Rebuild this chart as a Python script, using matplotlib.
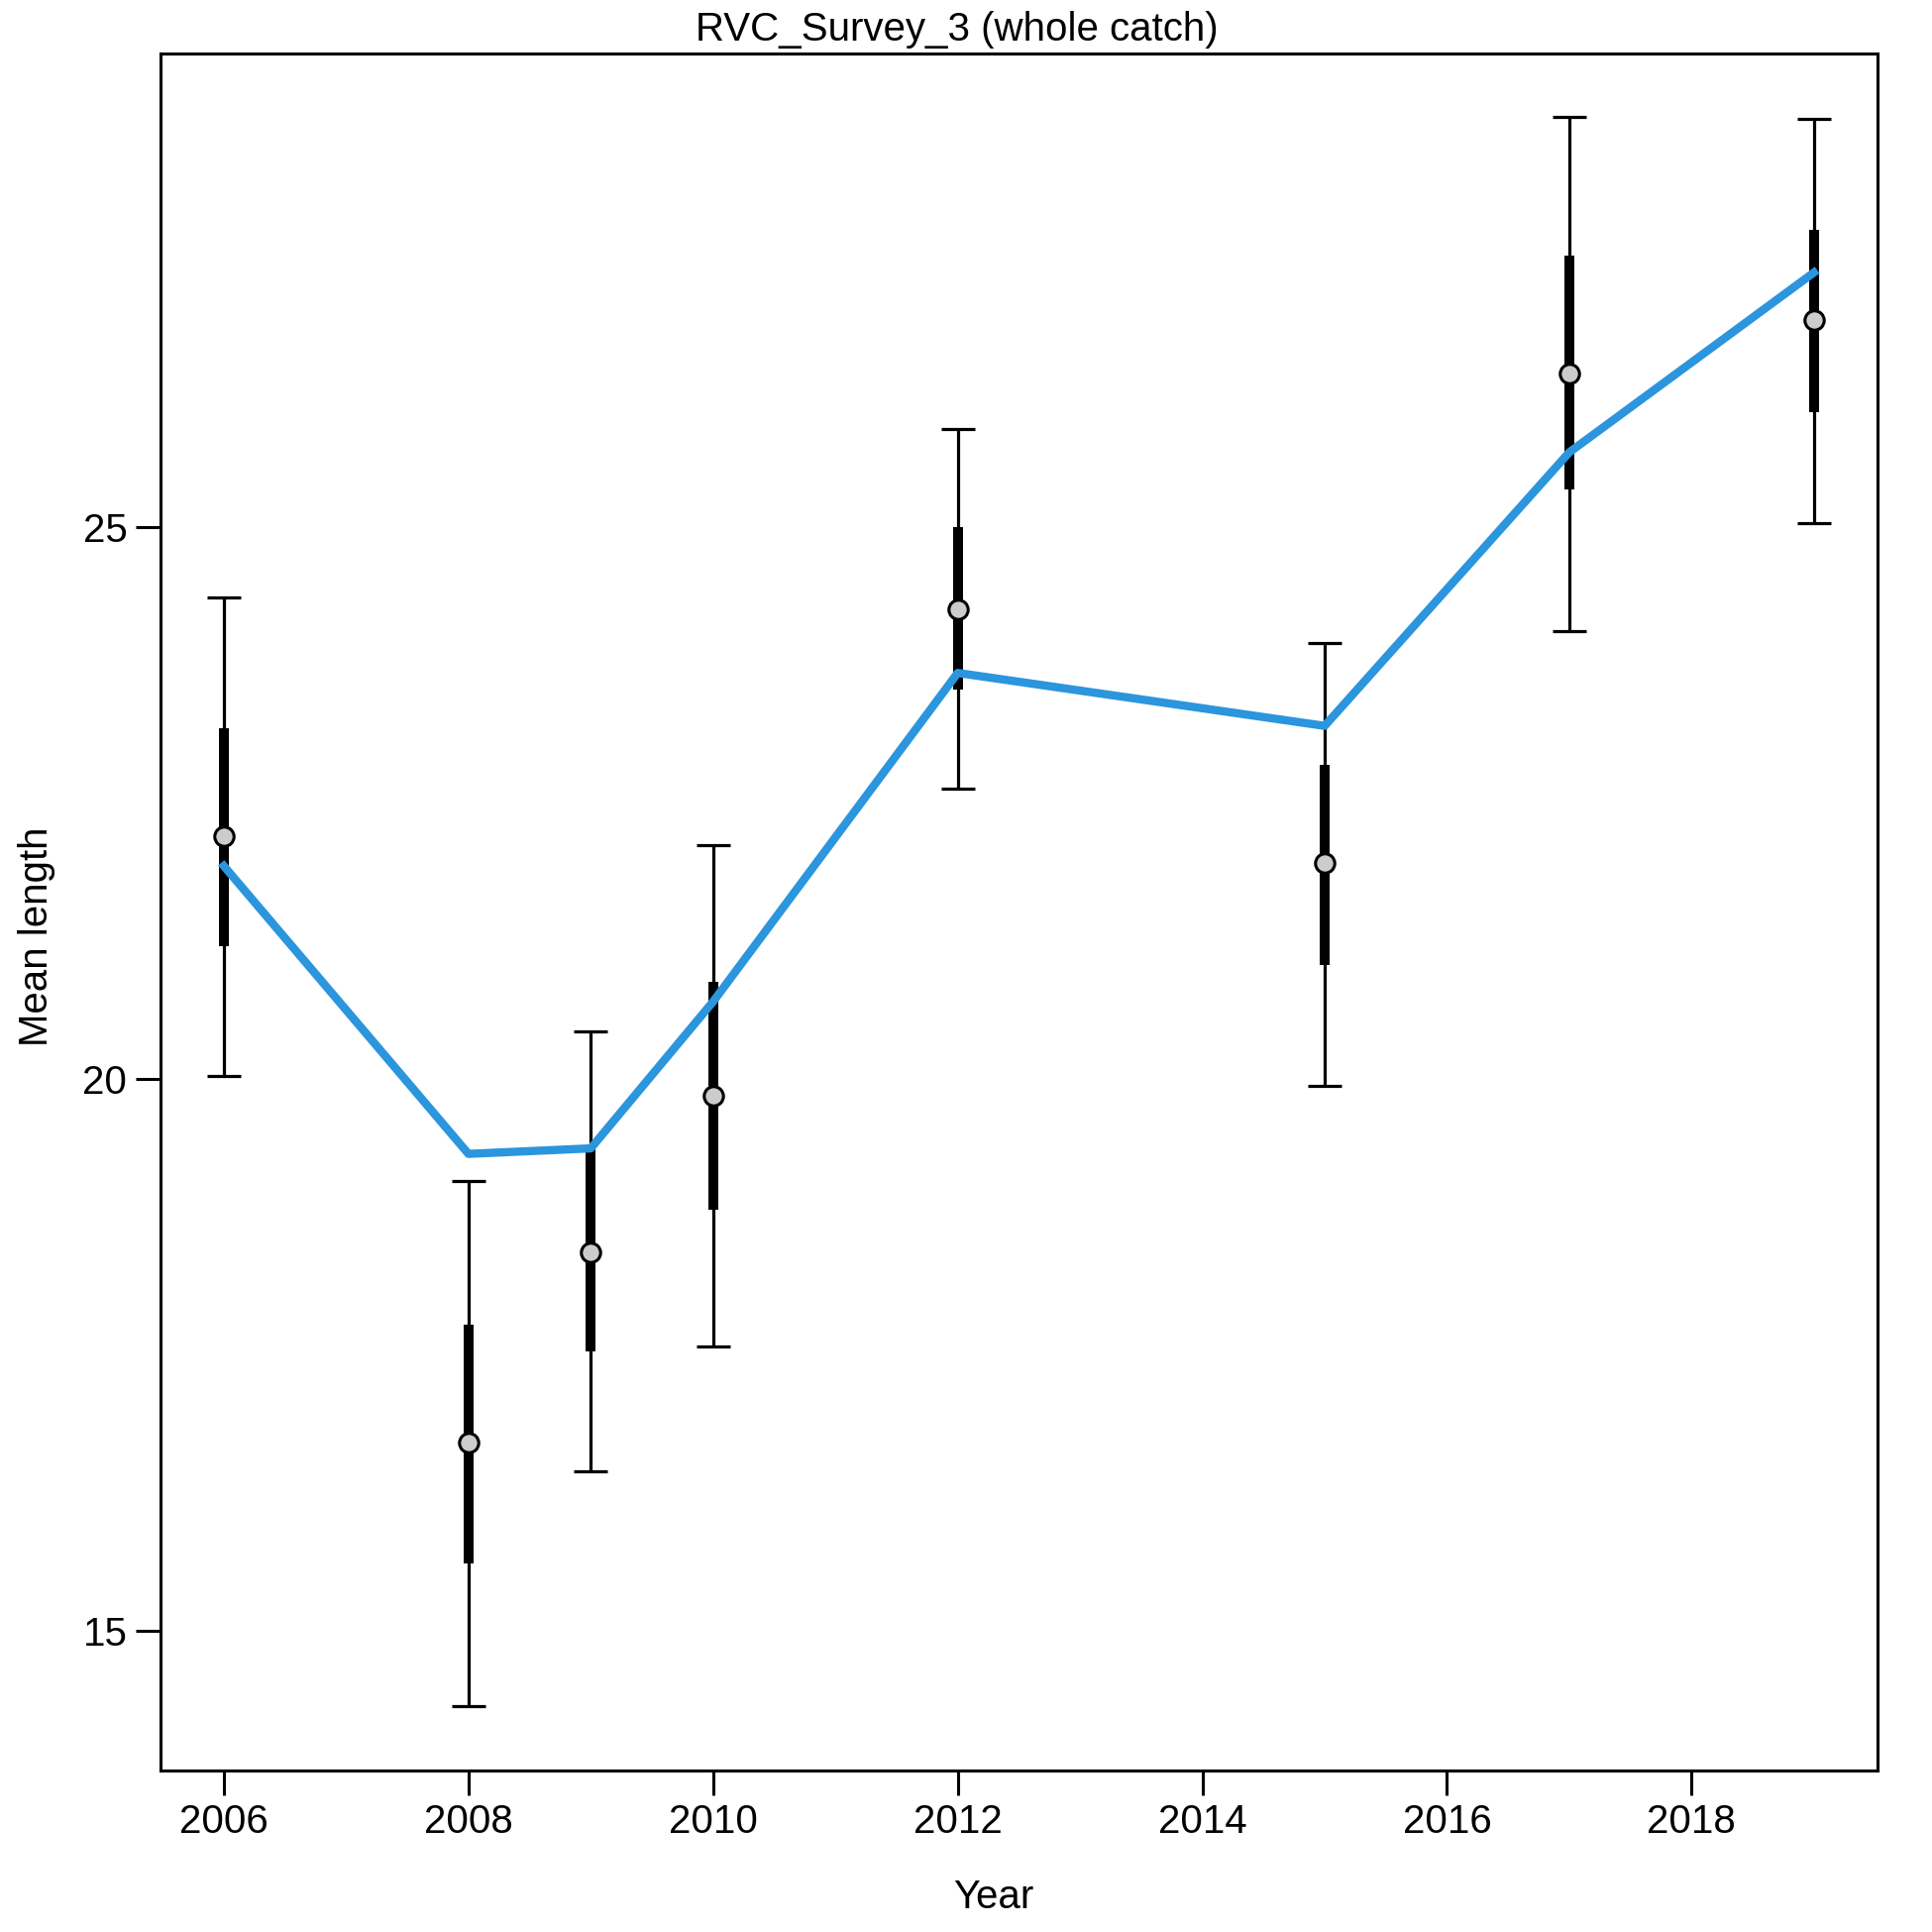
import matplotlib
matplotlib.use("Agg")
import matplotlib.pyplot as plt
import numpy as np

years = [2006, 2008, 2009, 2010, 2012, 2015, 2017, 2019]
obs = [22.20, 16.70, 18.43, 19.85, 24.26, 21.96, 26.39, 26.88]
thick_lo = [21.20, 15.61, 17.53, 18.81, 23.53, 21.03, 25.34, 26.04]
thick_hi = [23.18, 17.77, 19.37, 20.88, 25.00, 22.85, 27.46, 27.70]
thin_lo = [20.03, 14.31, 16.44, 17.57, 22.63, 19.94, 24.06, 25.04]
thin_hi = [24.36, 19.07, 20.43, 22.12, 25.89, 23.95, 28.72, 28.70]
fit = [21.93, 19.32, 19.37, 20.70, 23.68, 23.20, 25.68, 27.31]

xticks = [2006, 2008, 2010, 2012, 2014, 2016, 2018]
yticks = [15, 20, 25]

plt.rcParams['font.family'] = ['Liberation Sans', 'DejaVu Sans']

fig = plt.figure(figsize=(19.5, 19.5), dpi=100)
ax = fig.add_axes([161.7/1950, 1 - 1787/1950, (1895-161.7)/1950, (1787-53.5)/1950])

y = np.array(years)
ax.errorbar(y, obs, yerr=[np.array(obs)-np.array(thin_lo), np.array(thin_hi)-np.array(obs)],
            fmt='none', ecolor='black', elinewidth=2.3, capsize=12, capthick=2.3, zorder=2)
ax.vlines(y, thick_lo, thick_hi, colors='black', linewidth=7.2, zorder=3)
ax.plot(y, obs, 'o', ms=14, mfc='#cccccc', mec='black', mew=2.2, zorder=4)
ax.plot(y, fit, color='#2B95DD', lw=6, solid_joinstyle='round', zorder=5)

ax.set_xlim(2005.48, 2019.52)
ax.set_ylim(13.73, 29.30)
ax.set_xticks(xticks)
ax.set_xticklabels([str(t) for t in xticks])
ax.set_yticks(yticks)
ax.set_yticklabels([str(t) for t in yticks])
ax.tick_params(axis='both', direction='out', length=18, width=2.2, labelsize=29, pad=6)
for s in ax.spines.values():
    s.set_linewidth(2.2)

fig.text(966/1950, 1 - 30/1950, 'RVC_Survey_3 (whole catch)', ha='center', va='center', fontsize=29)
fig.text(1003/1950, 1 - 1915/1950, 'Year', ha='center', va='center', fontsize=29)
fig.text(37/1950, 1 - 945/1950, 'Mean length', ha='center', va='center', rotation=90, fontsize=29)

fig.savefig('out.png', dpi=100)
